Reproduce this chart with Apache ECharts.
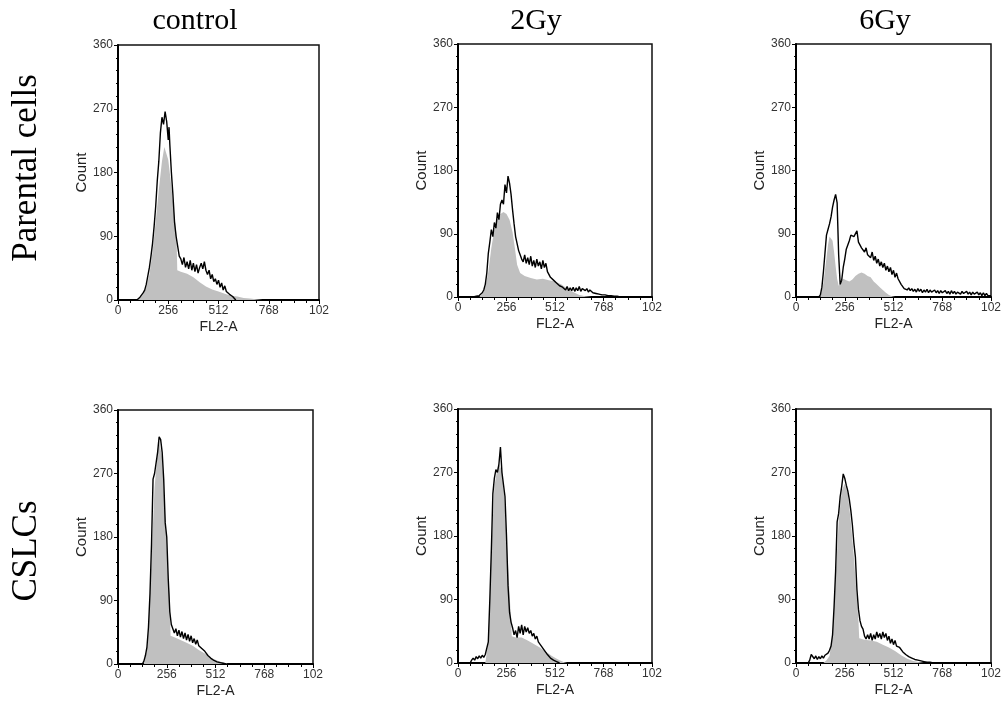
<!DOCTYPE html>
<html>
<head>
<meta charset="utf-8">
<title>Cell cycle histograms</title>
<script src="https://cdn.jsdelivr.net/npm/echarts@6/dist/echarts.min.js"></script>
<style>
    html, body { margin: 0; padding: 0; background: #fff; }
    #chart { width: 1001px; height: 709px; }
</style>
</head>
<body>
<div id="chart"></div>
<script>
const columnTitles = ['control', '2Gy', '6Gy'];
const rowTitles = ['Parental cells', 'CSLCs'];
const xTicks = [0, 256, 512, 768, 1024];
const xTickLabels = ['0', '256', '512', '768', '102'];
const yTicks = [0, 90, 180, 270, 360];
const xName = 'FL2-A';
const yName = 'Count';

// measured histograms (black outline) and fitted model (grey fill), [channel, count]
const parentalControlLine = [
    [96, 0], [104, 2], [112, 4], [120, 6], [128, 10], [136, 14], [144, 22], [152, 34], [160, 46], [168, 62],
    [176, 80], [184, 104], [192, 132], [200, 168], [208, 196], [216, 236], [224, 258], [232, 248], [240, 266], [248, 252],
    [256, 226], [260, 244], [264, 220], [272, 180], [280, 148], [288, 110], [296, 90], [304, 76], [312, 62], [320, 58],
    [328, 50], [336, 60], [344, 46], [352, 54], [360, 44], [368, 56], [376, 42], [384, 52], [392, 40], [400, 50],
    [408, 38], [416, 46], [424, 52], [432, 44], [440, 54], [448, 42], [456, 36], [464, 42], [472, 30], [480, 36],
    [488, 26], [496, 30], [504, 22], [512, 28], [520, 18], [528, 24], [536, 14], [544, 20], [552, 12], [560, 14],
    [568, 8], [576, 10], [584, 5], [592, 4], [600, 0]
];
const parentalControlFit = [
    [96, 0], [112, 3], [128, 8], [144, 18], [160, 36], [176, 68], [192, 110], [208, 156], [224, 196], [236, 216],
    [244, 218], [256, 198], [272, 160], [288, 118], [298, 90], [302, 42], [320, 40], [352, 37], [384, 32], [416, 25],
    [448, 19], [480, 15], [512, 12], [544, 9], [576, 6], [608, 5], [640, 3], [672, 2], [704, 1], [736, 0]
];

const parental2GyLine = [
    [80, 0], [88, 2], [96, 1], [104, 3], [112, 2], [120, 4], [128, 6], [136, 10], [144, 18], [152, 34],
    [160, 62], [168, 78], [176, 96], [184, 86], [192, 106], [200, 98], [208, 120], [216, 110], [224, 132], [232, 138],
    [240, 132], [248, 160], [256, 148], [264, 172], [272, 162], [280, 146], [288, 124], [296, 104], [304, 86], [312, 76],
    [320, 66], [328, 60], [336, 54], [344, 50], [352, 60], [360, 48], [368, 56], [376, 46], [384, 58], [392, 44],
    [400, 52], [408, 42], [416, 54], [424, 44], [432, 50], [440, 40], [448, 52], [456, 42], [464, 48], [472, 36],
    [480, 36], [488, 28], [496, 30], [504, 24], [512, 24], [520, 20], [528, 22], [536, 16], [544, 18], [552, 14],
    [560, 16], [568, 10], [576, 15], [584, 9], [592, 13], [600, 9], [608, 14], [616, 8], [624, 13], [632, 9],
    [640, 15], [648, 8], [656, 12], [664, 13], [672, 9], [680, 12], [688, 7], [696, 10], [704, 8], [712, 6],
    [720, 8], [728, 5], [736, 7], [744, 4], [752, 6], [760, 3], [768, 5], [776, 3], [784, 4], [792, 2],
    [800, 3], [808, 2], [816, 3], [824, 1], [832, 2], [840, 1], [848, 1], [856, 0], [864, 1], [872, 0]
];
const parental2GyFit = [
    [112, 0], [128, 4], [144, 14], [160, 36], [176, 70], [192, 96], [208, 112], [224, 118], [240, 121], [256, 118],
    [272, 110], [288, 92], [300, 70], [312, 46], [328, 34], [352, 30], [384, 27], [416, 25], [448, 26], [480, 24],
    [512, 22], [544, 18], [576, 12], [608, 7], [640, 3], [672, 1], [704, 0]
];

const parental6GyLine = [
    [120, 0], [128, 3], [136, 14], [144, 36], [152, 62], [160, 88], [168, 96], [176, 104], [184, 114], [192, 128],
    [200, 138], [208, 146], [216, 134], [224, 60], [232, 18], [240, 24], [248, 42], [256, 54], [264, 68], [272, 74],
    [280, 80], [288, 88], [296, 90], [304, 86], [312, 84], [320, 94], [328, 78], [336, 80], [344, 70], [352, 72],
    [360, 64], [368, 70], [376, 60], [384, 62], [392, 56], [400, 64], [408, 52], [416, 58], [424, 48], [432, 54],
    [440, 44], [448, 50], [456, 42], [464, 48], [472, 38], [480, 44], [488, 36], [496, 42], [504, 32], [512, 38],
    [520, 28], [528, 34], [536, 26], [544, 24], [552, 18], [560, 16], [568, 12], [576, 14], [584, 10], [592, 13],
    [600, 9], [608, 12], [616, 8], [624, 11], [632, 7], [640, 12], [648, 8], [656, 11], [664, 6], [672, 10],
    [680, 7], [688, 11], [696, 6], [704, 10], [712, 7], [720, 5], [728, 10], [736, 6], [744, 9], [752, 5],
    [760, 9], [768, 6], [776, 5], [784, 9], [792, 5], [800, 8], [808, 4], [816, 9], [824, 5], [832, 8],
    [840, 4], [848, 7], [856, 9], [864, 4], [872, 8], [880, 5], [888, 4], [896, 8], [904, 4], [912, 7],
    [920, 3], [928, 7], [936, 4], [944, 3], [952, 7], [960, 3], [968, 6], [976, 2], [984, 6], [992, 2],
    [1000, 5], [1008, 2], [1016, 4], [1024, 2]
];
const parental6GyFit = [
    [128, 0], [144, 20], [160, 56], [168, 74], [176, 86], [184, 88], [192, 80], [200, 64], [208, 44], [216, 26],
    [224, 16], [232, 20], [248, 26], [264, 24], [280, 22], [296, 25], [312, 30], [328, 33], [344, 35], [360, 33],
    [376, 30], [392, 28], [408, 22], [424, 18], [440, 14], [456, 10], [472, 6], [488, 3], [504, 1], [520, 0]
];

const cslcControlLine = [
    [128, 0], [136, 4], [144, 12], [152, 24], [160, 52], [168, 100], [176, 170], [184, 262], [192, 270], [200, 268],
    [208, 300], [216, 322], [224, 318], [232, 300], [240, 262], [248, 200], [256, 180], [264, 120], [272, 74], [280, 56],
    [288, 50], [296, 44], [304, 50], [312, 40], [320, 48], [328, 38], [336, 46], [344, 36], [352, 44], [360, 34],
    [368, 42], [376, 32], [384, 40], [392, 30], [400, 36], [408, 28], [416, 34], [424, 26], [432, 28], [440, 22],
    [448, 24], [456, 18], [464, 18], [472, 12], [480, 14], [488, 8], [496, 9], [504, 5], [512, 6], [520, 3],
    [528, 4], [536, 2], [544, 2], [552, 1], [560, 1], [568, 0]
];
const cslcControlFit = [
    [136, 0], [152, 20], [160, 50], [176, 150], [192, 250], [208, 300], [216, 316], [224, 318], [232, 292], [240, 250],
    [256, 166], [264, 120], [272, 96], [276, 40], [296, 38], [328, 34], [360, 30], [392, 26], [424, 20], [456, 15],
    [488, 9], [520, 5], [552, 2], [576, 0]
];

const cslc2GyLine = [
    [64, 0], [72, 4], [80, 7], [88, 4], [96, 9], [104, 6], [112, 10], [120, 7], [128, 11], [136, 8],
    [144, 12], [152, 14], [160, 30], [168, 90], [176, 160], [184, 240], [192, 262], [200, 274], [208, 270], [216, 282],
    [224, 306], [232, 270], [240, 270], [248, 236], [256, 180], [264, 110], [272, 72], [280, 58], [288, 50], [296, 40],
    [304, 46], [312, 36], [320, 52], [328, 42], [336, 54], [344, 40], [352, 52], [360, 44], [368, 50], [376, 42],
    [384, 46], [392, 38], [400, 42], [408, 34], [416, 38], [424, 30], [432, 32], [440, 24], [448, 26], [456, 18],
    [464, 20], [472, 12], [480, 13], [488, 7], [496, 7], [504, 4], [512, 3], [520, 2], [528, 1], [536, 0]
];
const cslc2GyFit = [
    [144, 0], [160, 30], [168, 90], [176, 160], [192, 250], [208, 276], [216, 282], [224, 284], [232, 272], [240, 252],
    [256, 180], [272, 100], [280, 60], [284, 38], [304, 36], [336, 36], [368, 32], [400, 27], [432, 22], [464, 16],
    [496, 10], [528, 5], [560, 1], [576, 0]
];

const cslc6GyLine = [
    [64, 0], [72, 4], [80, 12], [88, 10], [96, 6], [104, 10], [112, 5], [120, 9], [128, 6], [136, 10],
    [144, 7], [152, 11], [160, 12], [168, 14], [176, 18], [184, 24], [192, 40], [200, 80], [208, 130], [216, 200],
    [224, 212], [232, 236], [240, 250], [248, 268], [256, 262], [264, 252], [272, 244], [280, 232], [288, 216], [296, 196],
    [304, 170], [312, 150], [320, 104], [328, 76], [336, 60], [344, 52], [352, 48], [360, 38], [368, 34], [376, 40],
    [384, 34], [392, 42], [400, 32], [408, 40], [416, 34], [424, 44], [432, 36], [440, 42], [448, 34], [456, 44],
    [464, 36], [472, 42], [480, 32], [488, 38], [496, 28], [504, 34], [512, 26], [520, 32], [528, 24], [536, 26],
    [544, 22], [552, 22], [560, 16], [568, 18], [576, 12], [584, 14], [592, 9], [600, 10], [608, 7], [616, 8],
    [624, 5], [632, 6], [640, 4], [648, 5], [656, 3], [664, 4], [672, 2], [680, 2], [688, 1], [696, 2],
    [704, 1], [712, 1], [720, 0]
];
const cslc6GyFit = [
    [144, 0], [160, 4], [176, 10], [192, 40], [208, 120], [224, 200], [240, 244], [256, 254], [272, 240], [288, 200],
    [304, 150], [320, 90], [328, 60], [332, 35], [360, 33], [392, 32], [424, 30], [456, 26], [488, 22], [520, 17],
    [552, 11], [584, 6], [616, 3], [648, 1], [672, 0]
];

const panelData = [
    { line: parentalControlLine, fit: parentalControlFit },
    { line: parental2GyLine, fit: parental2GyFit },
    { line: parental6GyLine, fit: parental6GyFit },
    { line: cslcControlLine, fit: cslcControlFit },
    { line: cslc2GyLine, fit: cslc2GyFit },
    { line: cslc6GyLine, fit: cslc6GyFit }
];

// plot boxes in page pixels
const panelBoxes = [
    { left: 118, top: 45, width: 201, height: 255 },
    { left: 458, top: 44, width: 194, height: 253 },
    { left: 796, top: 44, width: 195, height: 253 },
    { left: 118, top: 410, width: 195, height: 254 },
    { left: 458, top: 409, width: 194, height: 254 },
    { left: 796, top: 409, width: 195, height: 254 }
];
const columnCenters = [195, 536, 885];
const rowCenters = [168, 551];

const SANS = '"Liberation Sans", Arial, sans-serif';
const SERIF = '"Liberation Serif", "Times New Roman", serif';
const FILL_GREY = '#c0c0c0';

function buildGrid(box) {
    return {
        ...box,
        show: true,
        backgroundColor: '#fff',
        borderColor: '#111',
        borderWidth: 1.5,
        containLabel: false,
        outerBoundsMode: 'none'
    };
}

function buildXAxis(index) {
    return {
        type: 'value',
        gridIndex: index,
        min: xTicks[0],
        max: xTicks[xTicks.length - 1],
        interval: xTicks[1] - xTicks[0],
        name: xName,
        nameLocation: 'middle',
        nameGap: 20,
        nameTextStyle: { color: '#222', fontSize: 14, fontFamily: SANS },
        axisLine: { show: true, onZero: false, lineStyle: { color: '#000', width: 2 } },
        axisTick: { show: true, inside: false, length: 4, lineStyle: { color: '#000', width: 1 } },
        minorTick: { show: true, splitNumber: 4, length: 3, lineStyle: { color: '#000', width: 1 } },
        axisLabel: {
            color: '#333',
            fontSize: 12,
            fontFamily: SANS,
            margin: 5,
            showMaxLabel: true,
            formatter: (value) => {
                const i = xTicks.indexOf(value);
                return i >= 0 ? xTickLabels[i] : '';
            }
        },
        splitLine: { show: false }
    };
}

function buildYAxis(index) {
    return {
        type: 'value',
        gridIndex: index,
        min: yTicks[0],
        max: yTicks[yTicks.length - 1],
        interval: yTicks[1] - yTicks[0],
        name: yName,
        nameLocation: 'middle',
        nameRotate: 90,
        nameGap: 27,
        nameTextStyle: { color: '#222', fontSize: 15, fontFamily: SANS },
        axisLine: { show: true, onZero: false, lineStyle: { color: '#000', width: 2 } },
        axisTick: { show: true, inside: false, length: 4, lineStyle: { color: '#000', width: 1 } },
        minorTick: { show: true, splitNumber: 5, length: 2, lineStyle: { color: '#000', width: 1 } },
        axisLabel: { color: '#333', fontSize: 12, fontFamily: SANS, margin: 5 },
        splitLine: { show: false }
    };
}

function buildSeries(data, index) {
    return [
        {
            type: 'line',
            name: `fit${index}`,
            xAxisIndex: index,
            yAxisIndex: index,
            data: data.fit,
            symbol: 'none',
            smooth: false,
            lineStyle: { width: 0, color: FILL_GREY },
            areaStyle: { color: FILL_GREY, opacity: 1 },
            z: 2
        },
        {
            type: 'line',
            name: `measured${index}`,
            xAxisIndex: index,
            yAxisIndex: index,
            data: data.line,
            symbol: 'none',
            smooth: false,
            lineStyle: { width: 1.4, color: '#000' },
            z: 3
        }
    ];
}

function buildTextGraphics() {
    const titles = columnTitles.map((text, i) => ({
        type: 'text',
        x: columnCenters[i],
        y: 21,
        style: {
            text,
            font: `30px ${SERIF}`,
            fill: '#000',
            align: 'center',
            verticalAlign: 'middle',
            textAlign: 'center',
            textVerticalAlign: 'middle'
        }
    }));

    const rows = rowTitles.map((text, i) => ({
        type: 'text',
        x: 27,
        y: rowCenters[i],
        rotation: Math.PI / 2,
        style: {
            text,
            font: `35px ${SERIF}`,
            fill: '#000',
            align: 'center',
            verticalAlign: 'middle',
            textAlign: 'center',
            textVerticalAlign: 'middle'
        }
    }));

    return titles.concat(rows);
}

function buildChartOptions() {
    return {
        animation: false,
        backgroundColor: '#fff',
        grid: panelBoxes.map(buildGrid),
        xAxis: panelBoxes.map((box, i) => buildXAxis(i)),
        yAxis: panelBoxes.map((box, i) => buildYAxis(i)),
        series: panelData.flatMap((data, i) => buildSeries(data, i)),
        graphic: buildTextGraphics()
    };
}

const chart = echarts.init(document.getElementById('chart'), null, { renderer: 'canvas' });
chart.setOption(buildChartOptions());
</script>
</body>
</html>
